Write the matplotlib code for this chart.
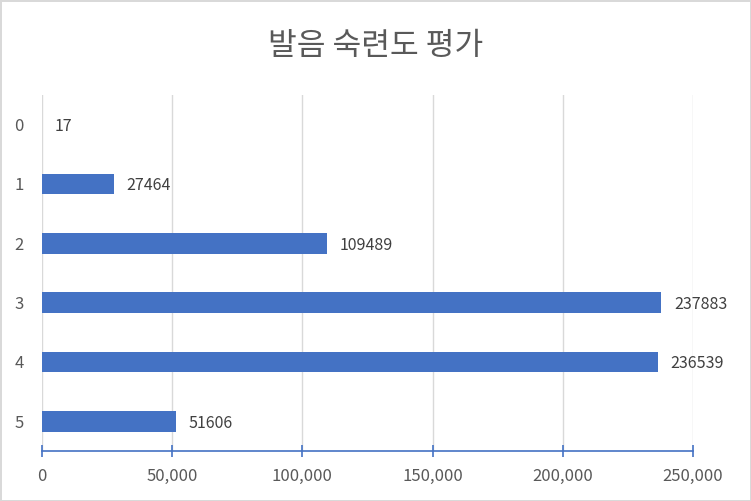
import matplotlib.pyplot as plt
from matplotlib.ticker import FuncFormatter

plt.rcParams['font.family'] = ['Noto Sans CJK KR', 'DejaVu Sans']

# ==========================
# Data
# ==========================
categories = ['0', '1', '2', '3', '4', '5']
counts = [17, 27464, 109489, 237883, 236539, 51606]
title = "발음 숙련도 평가"

bar_color = '#4472C4'
text_color = '#595959'
grid_color = '#D9D9D9'

# ==========================
# Figure
# ==========================
fig = plt.figure(figsize=(7.51, 5.01), dpi=100)
fig.patch.set_edgecolor(grid_color)
fig.patch.set_linewidth(2)

ax = fig.add_axes([42 / 751, 1 - 451 / 501, 651 / 751, 356 / 501])

y = list(range(len(categories)))
bars = ax.barh(y, counts, height=0.35, color=bar_color, zorder=3)

for yi, v in zip(y, counts):
    ax.annotate(str(v), xy=(v, yi), xytext=(9, 0), textcoords='offset points',
                va='center_baseline', ha='left', fontsize=11.5, color='#404040')

ax.set_ylim(5.5, -0.5)
ax.set_xlim(0, 250000)
ax.set_xticks([0, 50000, 100000, 150000, 200000, 250000])
ax.xaxis.set_major_formatter(FuncFormatter(lambda v, p: f"{int(v):,}"))
ax.set_yticks(y)
ax.set_yticklabels(categories)

ax.grid(axis='x', color=grid_color, linewidth=1, zorder=0)
for s in ['top', 'right', 'left']:
    ax.spines[s].set_visible(False)
ax.spines['bottom'].set_color(bar_color)
ax.spines['bottom'].set_linewidth(1.2)

ax.tick_params(axis='x', direction='inout', length=9, width=1.2, color=bar_color,
               labelcolor=text_color, labelsize=12, pad=8)
ax.tick_params(axis='y', length=0, labelcolor=text_color, labelsize=12, pad=13)

fig.text(0.5, 1 - 46 / 501, title, ha='center', va='center', fontsize=22.5, color=text_color)

plt.savefig("out.png", dpi=100)
